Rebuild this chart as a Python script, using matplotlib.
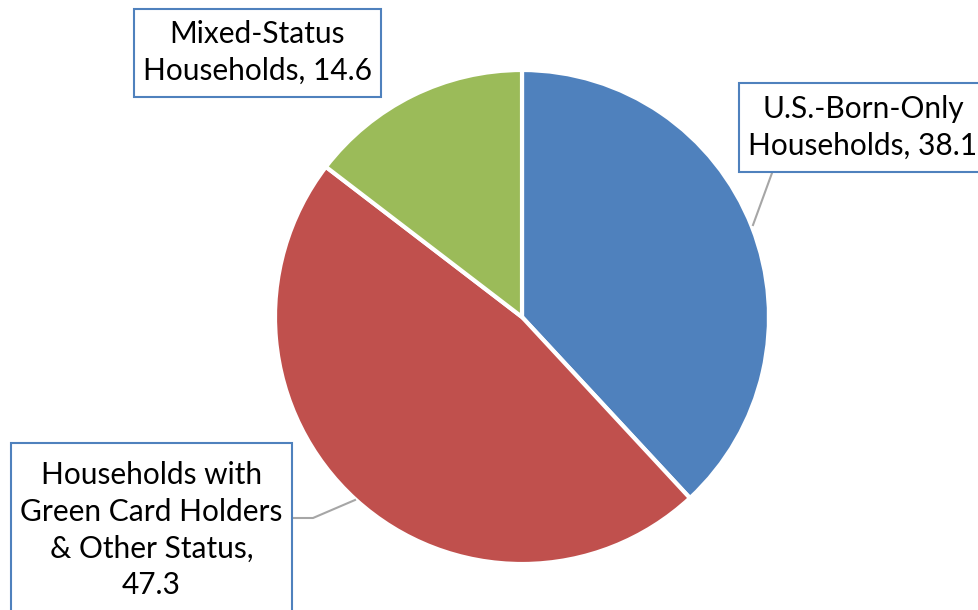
import matplotlib
matplotlib.use("Agg")
import matplotlib.pyplot as plt
from matplotlib.patches import Rectangle

labels = ["U.S.-Born-Only\nHouseholds, 38.1",
          "Households with\nGreen Card Holders\n& Other Status,\n47.3",
          "Mixed-Status\nHouseholds, 14.6"]
values = [38.1, 47.3, 14.6]
colors = ["#4F81BD", "#C0504D", "#9BBB59"]

W, H = 979, 610
fig = plt.figure(figsize=(W / 100, H / 100), dpi=100)
ax = fig.add_axes([0, 0, 1, 1])
ax.set_xlim(0, W)
ax.set_ylim(0, H)
ax.set_aspect("equal")
ax.axis("off")

def py(y):
    return H - y

cx, cy, r = 522, py(317), 247
ax.pie(values, colors=colors, startangle=90, counterclock=False,
       center=(cx, cy), radius=r, frame=True,
       wedgeprops=dict(edgecolor="white", linewidth=3))
ax.set_xlim(0, W)
ax.set_ylim(0, H)
ax.axis("off")

font = "Lato"
fs = 21.5
boxes = [  # x0, y0, x1, y1 in pixel coords (top-left origin)
    (739, 83, 990, 172),
    (11, 443, 292, 640),
    (134, 9, 381, 97),
]
text_pos = [(863, 127), (151.5, 530), (257.5, 52)]
for (x0, y0, x1, y1), (tx, ty), lab in zip(boxes, text_pos, labels):
    ax.add_patch(Rectangle((x0, py(y1)), x1 - x0, y1 - y0, facecolor="white",
                           edgecolor="#4F81BD", linewidth=1.5, zorder=5,
                           clip_on=False))
    ax.text(tx, py(ty), lab, ha="center", va="center", fontsize=fs,
            family=font, color="black", linespacing=1.38, zorder=6)

lead = "#A6A6A6"
ax.plot([772, 753], [py(173), py(225)], color=lead, lw=1.5, zorder=4)
ax.plot([292, 313, 355], [py(518), py(518), py(500)], color=lead, lw=1.5, zorder=4)

fig.savefig("out.png", dpi=100)
